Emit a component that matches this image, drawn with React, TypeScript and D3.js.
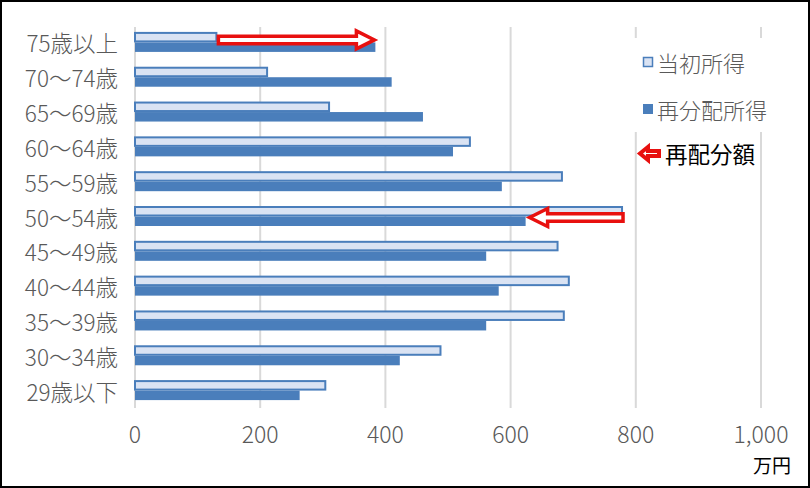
import React from "react";
import * as d3 from "d3";

const categories = ["75歳以上", "70～74歳", "65～69歳", "60～64歳", "55～59歳", "50～54歳", "45～49歳", "40～44歳", "35～39歳", "30～34歳", "29歳以下"];
const initialIncome = [130, 211, 310, 535, 682, 778, 675, 693, 685, 488, 304];
const redistributedIncome = [384, 410, 460, 508, 586, 624, 561, 581, 561, 423, 263];
const xTicks = [0, 200, 400, 600, 800, 1000];
const seriesNames = ["当初所得", "再分配所得"];
const arrowCategories = ["75歳以上", "50～54歳"];
const arrowLabel = "再配分額";
const unitLabel = "万円";

const W = 810, H = 488;
const FONT = "'Noto Sans CJK JP', 'Noto Sans', sans-serif";
const GRAY = "#595959";
const DARK = "#4a7ebb";
const LIGHT = "#dae3f3";
const RED = "#e8100f";

function blockArrow(x1: number, x2: number, cy: number, shaftH: number, headH: number, headL: number) {
  const dir = x2 > x1 ? 1 : -1;
  const hb = x2 - dir * headL;
  const p = [
    [x1, cy - shaftH / 2],
    [hb, cy - shaftH / 2],
    [hb, cy - headH / 2],
    [x2, cy],
    [hb, cy + headH / 2],
    [hb, cy + shaftH / 2],
    [x1, cy + shaftH / 2],
  ];
  return "M" + p.map((q) => q.join(",")).join("L") + "Z";
}

export default function App() {
  const x = d3.scaleLinear().domain([0, 1000]).range([135, 761]);
  const y = d3.scaleBand<string>().domain(categories).range([25, 408]).padding(0);
  const bh = 9.5;
  const fmt = d3.format(",");

  return (
    <svg width={W} height={H} style={{ position: "absolute", left: 0, top: 0, background: "#fff" }} fontFamily={FONT}>
      <rect x={1} y={1} width={W - 2} height={H - 2} fill="#fff" stroke="#000" strokeWidth={2} />
      {xTicks.map((t) => (
        <line key={"g" + t} x1={x(t)} x2={x(t)} y1={27} y2={408} stroke="#d9d9d9" strokeWidth={2} />
      ))}
      {categories.map((c, i) => {
        const cy = (y(c) as number) + y.bandwidth() / 2;
        return (
          <g key={c}>
            <rect x={x(0)} y={cy - bh} width={x(initialIncome[i]) - x(0)} height={bh - 1} fill={LIGHT} stroke={DARK} strokeWidth={2} />
            <rect x={x(0)} y={cy} width={x(redistributedIncome[i]) - x(0)} height={bh} fill={DARK} />
            <text x={118} y={cy} textAnchor="end" dominantBaseline="central" fontSize={22.5} fontWeight={300} fill={GRAY}>{c}</text>
          </g>
        );
      })}
      {arrowCategories.map((c) => {
        const i = categories.indexOf(c);
        const a = initialIncome[i], b = redistributedIncome[i];
        const base = (y(c) as number) + y.bandwidth() / 2;
        const x1 = x(a) + (b > a ? 2 : 1);
        const x2 = x(b) + (b > a ? -1 : 4);
        const cyy = b > a ? base - 2.5 : base + 1;
        return <path key={"a" + c} d={blockArrow(x1, x2, cyy, 7.5, 18, 18)} fill="#fff" stroke={RED} strokeWidth={3.5} strokeLinejoin="miter" />;
      })}
      {xTicks.map((t) => (
        <text key={"t" + t} x={x(t)} y={433} textAnchor="middle" dominantBaseline="central" fontSize={23} fontWeight={300} fill={GRAY}>{fmt(t)}</text>
      ))}
      <text x={791} y={464} textAnchor="end" dominantBaseline="central" fontSize={19} fill="#000">{unitLabel}</text>
      <rect x={628} y={38} width={162} height={94} fill="#fff" />
      <rect x={643.5} y={57.5} width={9} height={9} fill={LIGHT} stroke={DARK} strokeWidth={1.5} />
      <text x={657} y={62} dominantBaseline="central" fontSize={22} fontWeight={300} fill={GRAY}>{seriesNames[0]}</text>
      <rect x={643} y={104} width={10} height={10} fill={DARK} />
      <text x={657} y={109} dominantBaseline="central" fontSize={22} fontWeight={300} fill={GRAY}>{seriesNames[1]}</text>
      <path d={blockArrow(659, 640, 153.5, 5, 13, 8)} fill="#fff" stroke={RED} strokeWidth={4} />
      <text x={665} y={153} dominantBaseline="central" fontSize={22.5} fill="#000">{arrowLabel}</text>
    </svg>
  );
}
